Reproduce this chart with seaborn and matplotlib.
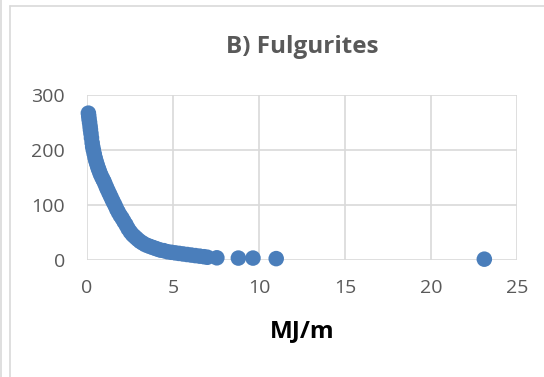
import matplotlib
matplotlib.use("Agg")
import matplotlib.pyplot as plt
import seaborn as sns
import pandas as pd
from matplotlib.lines import Line2D

energy_mj_per_m = [0.08, 0.10, 0.12, 0.15, 0.18, 0.20, 0.23, 0.26, 0.30, 0.33, 0.37, 0.42,
                   0.47, 0.52, 0.58, 0.64, 0.70, 0.77, 0.84, 0.92, 1.00, 1.08, 1.16, 1.25,
                   1.34, 1.43, 1.52, 1.62, 1.72, 1.82, 1.93, 2.04, 2.15, 2.27, 2.39, 2.52,
                   2.65, 2.79, 2.93, 3.08, 3.23, 3.39, 3.55, 3.72, 3.90, 4.08, 4.27, 4.47,
                   4.68, 4.90, 5.12, 5.35, 5.58, 5.82, 6.06, 6.30, 6.55, 6.80, 7.00, 7.55,
                   8.80, 9.65, 11.0, 23.1]
values = [267, 262, 256, 250, 243, 237, 230, 222, 213, 206, 200, 193,
          186, 180, 174, 168, 163, 157, 152, 147, 142, 136, 130, 124,
          118, 112, 106, 100, 93, 87, 81, 76, 70, 64, 57, 51,
          46, 42, 38, 34, 31, 28, 26, 24, 22, 20, 18, 17,
          15, 14, 13, 12, 11, 10, 9, 8, 7, 6, 5, 4,
          3.5, 3.5, 2.5, 1.5]
x_ticks = [0, 5, 10, 15, 20, 25]
y_ticks = [0, 100, 200, 300]
title = "B) Fulgurites"
x_label = "MJ/m"

sns.set_style("white")
plt.rcParams["font.family"] = ["Open Sans", "DejaVu Sans"]

df = pd.DataFrame({"x": energy_mj_per_m, "y": values})

fig = plt.figure(figsize=(5.44, 3.77), dpi=100)
ax = fig.add_axes([87/544, 1-260/377, (517-87)/544, (260-95)/377])

sns.scatterplot(data=df, x="x", y="y", ax=ax, s=125, color="#4A7EBB",
                edgecolor="none", linewidth=0, clip_on=False, zorder=3)

ax.set_xlim(0, 25)
ax.set_ylim(0, 300)
ax.set_xticks(x_ticks)
ax.set_yticks(y_ticks)
ax.grid(True, color="#D9D9D9", linewidth=1.2)
ax.set_axisbelow(True)
for s in ax.spines.values():
    s.set_visible(False)
ax.tick_params(axis="both", length=0, labelsize=14, labelcolor="#595959")
ax.tick_params(axis="x", pad=14)
ax.tick_params(axis="y", pad=16)
ax.set_xlabel("")
ax.set_ylabel("")

fig.text(302/544, 1-47/377, title, ha="center", va="center", fontsize=17.5,
         fontweight="bold", color="#595959")
fig.text(302/544, 1-331/377, x_label, ha="center", va="center", fontsize=17.5,
         fontweight="bold", color="black")

# chart border lines
fig.add_artist(Line2D([1/544, 1/544], [0, 1], transform=fig.transFigure, color="#D9D9D9", lw=1.2))
fig.add_artist(Line2D([10/544, 10/544], [0, 1-6/377], transform=fig.transFigure, color="#D9D9D9", lw=1.2))
fig.add_artist(Line2D([10/544, 1], [1-6/377, 1-6/377], transform=fig.transFigure, color="#D9D9D9", lw=1.2))

fig.savefig("out.png", dpi=100)
